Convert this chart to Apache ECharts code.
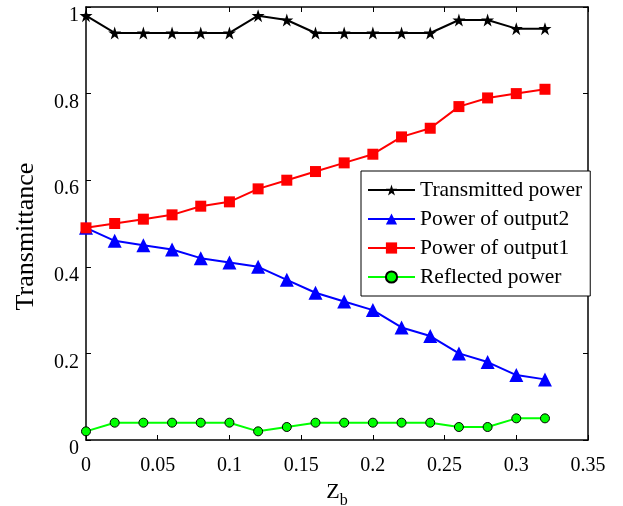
<!DOCTYPE html>
<html>
<head>
<meta charset="utf-8">
<script src="https://cdn.jsdelivr.net/npm/echarts@6/dist/echarts.min.js"></script>
<style>
  html, body { margin: 0; padding: 0; background: #fff; }
  #chart { width: 623px; height: 506px; }
</style>
</head>
<body>
<div id="chart"></div>
<script>
// Normalized length Z_b along the coupler
const zb = [0, 0.02, 0.04, 0.06, 0.08, 0.10, 0.12, 0.14, 0.16, 0.18, 0.20, 0.22, 0.24, 0.26, 0.28, 0.30, 0.32];

const transmitted = [0.98, 0.94, 0.94, 0.94, 0.94, 0.94, 0.98, 0.97, 0.94, 0.94, 0.94, 0.94, 0.94, 0.97, 0.97, 0.95, 0.95];
const output2     = [0.49, 0.46, 0.45, 0.44, 0.42, 0.41, 0.40, 0.37, 0.34, 0.32, 0.30, 0.26, 0.24, 0.20, 0.18, 0.15, 0.14];
const output1     = [0.49, 0.50, 0.51, 0.52, 0.54, 0.55, 0.58, 0.60, 0.62, 0.64, 0.66, 0.70, 0.72, 0.77, 0.79, 0.80, 0.81];
const reflected   = [0.02, 0.04, 0.04, 0.04, 0.04, 0.04, 0.02, 0.03, 0.04, 0.04, 0.04, 0.04, 0.04, 0.03, 0.03, 0.05, 0.05];

const seriesNames = ['Transmitted power', 'Power of output2', 'Power of output1', 'Reflected power'];

const xTicks = { min: 0, max: 0.35, step: 0.05 };
const yTicks = { min: 0, max: 1, step: 0.2 };

const FONT = '"Liberation Serif", "Times New Roman", serif';
const STAR = 'path://M50,0 L61.2,34.5 L97.6,34.5 L68.2,55.9 L79.4,90.5 L50,69.1 L20.6,90.5 L31.8,55.9 L2.4,34.5 L38.8,34.5 Z';

function pairs(ys) { return zb.map((x, i) => [x, ys[i]]); }

const axisCommon = {
  axisLine: { show: true, onZero: false, lineStyle: { color: '#000', width: 1.5 } },
  axisTick: { show: true, inside: true, length: 5, lineStyle: { color: '#000', width: 1 } },
  splitLine: { show: false },
  axisLabel: { color: '#000', fontFamily: FONT, fontSize: 20 }
};

const chart = echarts.init(document.getElementById('chart'), null, { renderer: 'canvas' });

chart.setOption({
  animation: false,
  backgroundColor: '#fff',
  grid: { left: 86, right: 35, top: 7, bottom: 66, containLabel: false, outerBoundsMode: 'none' },
  xAxis: [
    Object.assign({}, axisCommon, {
      type: 'value', position: 'bottom',
      min: xTicks.min, max: xTicks.max, interval: xTicks.step,
      axisLabel: Object.assign({}, axisCommon.axisLabel, { margin: 16 }),
      name: '{z|Z}{s|b}', nameLocation: 'middle', nameGap: 37,
      nameTextStyle: {
        color: '#000', fontFamily: FONT,
        rich: {
          z: { fontFamily: FONT, fontSize: 22, color: '#000', lineHeight: 28, verticalAlign: 'top' },
          s: { fontFamily: FONT, fontSize: 16, color: '#000', lineHeight: 28, verticalAlign: 'bottom', padding: [8, 0, 0, 0] }
        }
      }
    }),
    Object.assign({}, axisCommon, {
      type: 'value', position: 'top',
      min: xTicks.min, max: xTicks.max, interval: xTicks.step,
      axisLabel: { show: false }
    })
  ],
  yAxis: [
    Object.assign({}, axisCommon, {
      type: 'value', position: 'left',
      min: yTicks.min, max: yTicks.max, interval: yTicks.step,
      axisLabel: Object.assign({}, axisCommon.axisLabel, { margin: 7, verticalAlign: 'top', lineHeight: 18 }),
      name: 'Transmittance', nameLocation: 'middle', nameGap: 47,
      nameTextStyle: { color: '#000', fontFamily: FONT, fontSize: 26, padding: [0, 26, 0, 0] }
    }),
    Object.assign({}, axisCommon, {
      type: 'value', position: 'right',
      min: yTicks.min, max: yTicks.max, interval: yTicks.step,
      axisLabel: { show: false }
    })
  ],
  legend: {
    orient: 'vertical',
    left: 361, top: 171,
    width: 227,
    padding: [8, 8, 8, 6],
    itemGap: 7,
    itemWidth: 47, itemHeight: 14,
    backgroundColor: '#fff',
    borderColor: '#000', borderWidth: 1,
    textStyle: { color: '#000', fontFamily: FONT, fontSize: 21.5 },
    data: seriesNames
  },
  series: [
    {
      name: seriesNames[0], type: 'line', data: pairs(transmitted),
      symbol: STAR, symbolSize: 13,
      lineStyle: { color: '#000', width: 2 },
      itemStyle: { color: '#000' }
    },
    {
      name: seriesNames[1], type: 'line', data: pairs(output2),
      symbol: 'triangle', symbolSize: 14,
      lineStyle: { color: '#0000ff', width: 2 },
      itemStyle: { color: '#0000ff' }
    },
    {
      name: seriesNames[2], type: 'line', data: pairs(output1),
      symbol: 'rect', symbolSize: 11,
      lineStyle: { color: '#ff0000', width: 2 },
      itemStyle: { color: '#ff0000' }
    },
    {
      name: seriesNames[3], type: 'line', data: pairs(reflected),
      symbol: 'circle', symbolSize: 9,
      lineStyle: { color: '#00ff00', width: 2 },
      itemStyle: { color: '#00ff00', borderColor: '#000', borderWidth: 1 }
    }
  ]
});
</script>
</body>
</html>
